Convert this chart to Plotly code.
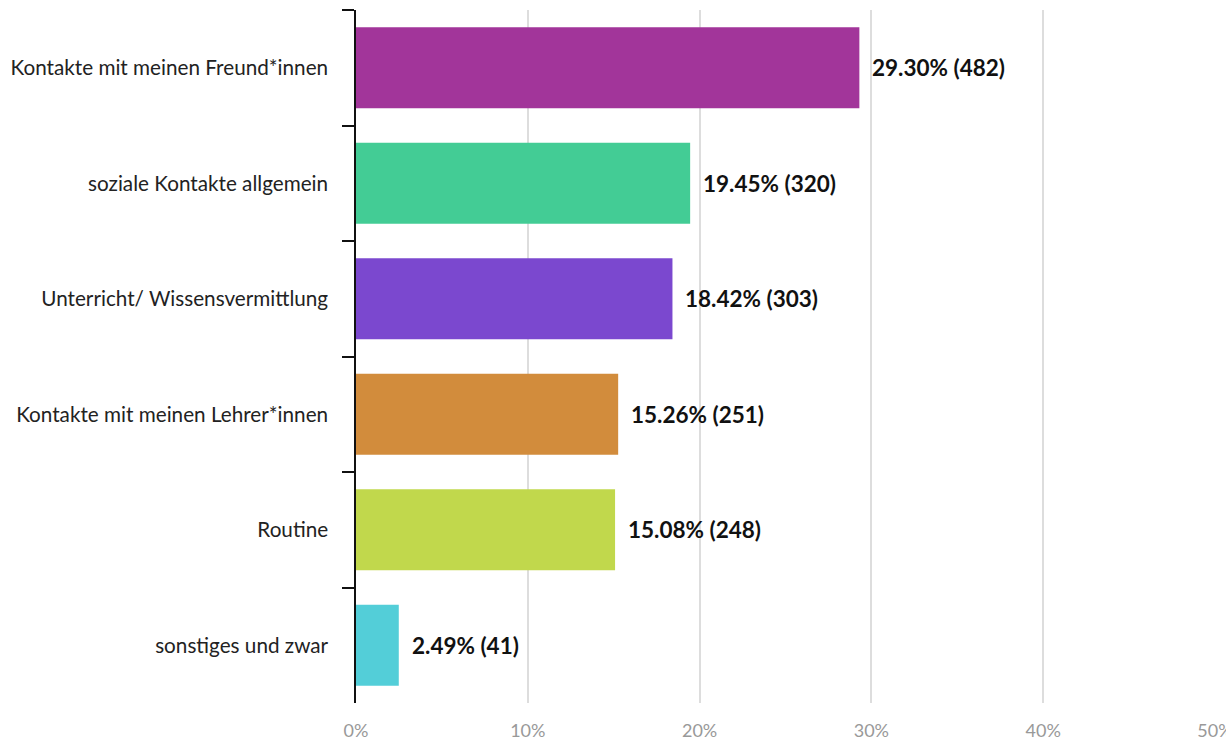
import plotly.graph_objects as go

categories = [
    "Kontakte mit meinen Freund*innen",
    "soziale Kontakte allgemein",
    "Unterricht/ Wissensvermittlung",
    "Kontakte mit meinen Lehrer*innen",
    "Routine",
    "sonstiges und zwar",
]
percents = [29.30, 19.45, 18.42, 15.26, 15.08, 2.49]
counts = [482, 320, 303, 251, 248, 41]
colors = ["#a2359a", "#43cc95", "#7b48cf", "#d28c3c", "#c1d84c", "#53ced8"]
x_ticks = [0, 10, 20, 30, 40, 50]
x_tick_labels = ["0%", "10%", "20%", "30%", "40%", "50%"]

fig = go.Figure()
fig.add_trace(go.Bar(
    y=categories,
    x=percents,
    orientation="h",
    marker=dict(color=colors, line=dict(width=0)),
    width=0.7,
    hoverinfo="skip",
))

for cat, p, n in zip(categories, percents, counts):
    fig.add_annotation(
        x=p, y=cat, text=f"<b>{p:.2f}% ({n})</b>",
        showarrow=False, xanchor="left", yanchor="middle", xshift=11,
        font=dict(family="Lato", size=22.5, color="#111111"),
    )

fig.update_layout(
    width=1226, height=740,
    margin=dict(l=356, r=11, t=10, b=37),
    paper_bgcolor="white", plot_bgcolor="white",
    showlegend=False,
    font=dict(family="Lato"),
    bargap=0.3,
)
fig.update_xaxes(
    range=[0, 50],
    tickvals=x_ticks, ticktext=x_tick_labels,
    showgrid=True, gridcolor="#dddddd", gridwidth=1.5,
    zeroline=False, showline=False,
    tickfont=dict(family="Lato", size=18, color="#999999"),
    ticks="", ticklabelstandoff=15,
    ticklabeloverflow="allow",
    automargin=False,
)
fig.update_yaxes(
    autorange="reversed",
    showline=True, linecolor="#111111", linewidth=1.5,
    ticks="outside", tickson="boundaries", ticklen=12, tickwidth=1.5, tickcolor="#111111",
    tickfont=dict(family="Lato", size=20.7, color="#222222"),
    ticklabelstandoff=22,
    showgrid=False,
    automargin=False,
)

fig.write_html(
    "out.html",
    config={"displayModeBar": False},
    post_script="document.body.style.margin='0';document.body.style.overflow='hidden';",
)
